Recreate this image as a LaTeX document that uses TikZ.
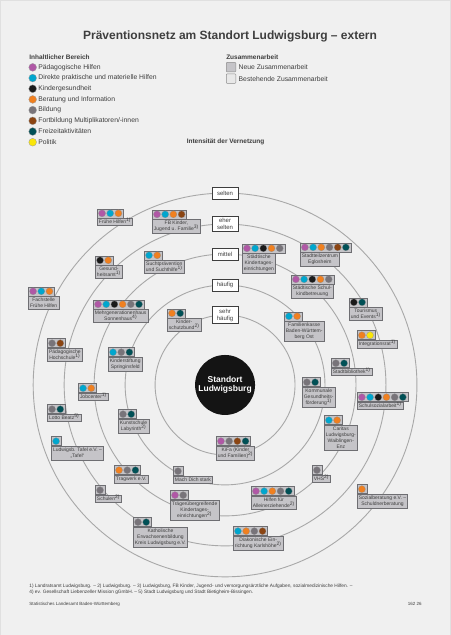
\documentclass[tikz,border=0pt]{standalone}
\usepackage{fontspec}
\setmainfont{Liberation Sans}
\setsansfont{Liberation Sans}
\usetikzlibrary{positioning,calc}
\definecolor{bgfill}{RGB}{240,240,240}
\definecolor{orgfill}{RGB}{197,196,200}
\definecolor{orgline}{RGB}{110,110,114}
\definecolor{oldfill}{RGB}{232,232,232}
\definecolor{ringline}{RGB}{168,168,168}
\definecolor{textgray}{RGB}{62,62,62}
\definecolor{paed}{RGB}{176,88,166}
\definecolor{direkt}{RGB}{0,166,206}
\definecolor{gesund}{RGB}{26,26,26}
\definecolor{beratung}{RGB}{240,128,32}
\definecolor{bildung}{RGB}{120,116,122}
\definecolor{fortb}{RGB}{139,69,19}
\definecolor{freizeit}{RGB}{0,80,86}
\definecolor{politik}{RGB}{250,230,10}
\newcommand{\hoch}[1]{\smash{\textsuperscript{#1}}}
% tab with one dot per content area above node #1
\newcommand{\bereiche}[2]{%
  \foreach \farbe [count=\i] in {#2} {\xdef\nfarben{\i}}
  \node[reiter, minimum width=\nfarben*8.2+1.6, anchor=south west] (#1-tab) at (#1.north west) {};
  \foreach \farbe [count=\i] in {#2} {\fill[\farbe, draw=black!45, line width=0.2pt] ($(#1-tab.west)+(\i*8.2-3.3,0)$) circle[radius=3.5];}
}

\begin{document}
\begin{tikzpicture}[x=1pt, y=-1pt,
  font=\fontsize{6.8}{8}\selectfont,
  org/.style={draw=orgline, fill=orgfill, line width=0.5pt, anchor=north west, align=center, inner xsep=1.6pt, inner ysep=1.8pt, text=textgray, font=\fontsize{5}{6}\selectfont},
  reiter/.style={draw=orgline, fill=orgfill, line width=0.5pt, minimum height=9pt, inner sep=0pt},
  stufe/.style={draw=textgray, fill=white, line width=0.6pt, minimum width=26pt, minimum height=12pt, inner xsep=1pt, inner ysep=2pt, align=center, text=textgray, font=\fontsize{6}{7}\selectfont},
  ring/.style={draw=ringline, line width=0.9pt},
  head/.style={font=\fontsize{6.5}{8}\selectfont\bfseries, text=textgray},
  lab/.style={text=textgray, anchor=west, inner sep=0pt},
  fuss/.style={text=textgray, anchor=north west, align=left, inner sep=0pt, font=\fontsize{4.8}{5.6}\selectfont}]

\fill[bgfill, draw=black!12] (0,0) rectangle (450,635);
\useasboundingbox (0,0) rectangle (450,635);

% title and legend
\node[font=\fontsize{12}{14}\selectfont\bfseries, text=textgray] (titel) at (230,36) {Präventionsnetz am Standort Ludwigsburg – extern};
\node[head, anchor=west, inner sep=0pt] (hinhalt) at (29,57) {Inhaltlicher Bereich};
\foreach \farbe/\text [count=\i] in {paed/Pädagogische Hilfen, direkt/Direkte praktische und materielle Hilfen, gesund/Kindergesundheit, beratung/Beratung und Information, bildung/Bildung, fortb/{Fortbildung Multiplikatoren/-innen}, freizeit/Freizeitaktivitäten, politik/Politik} {
  \fill[\farbe, draw=black!40, line width=0.3pt] (32.5,56.5+\i*10.7) circle[radius=3.9];
  \node[lab] (l\i) at (38,56.5+\i*10.7) {\text};
}
\node[head, anchor=west, inner sep=0pt] (hzusammen) at (226,57) {Zusammenarbeit};
\node[draw=black!45, fill=orgfill, minimum size=9.5pt, inner sep=0pt, rounded corners=0.8pt] (neu) at (231,67) {};
\node[lab, right=2.5pt of neu] (lneu) {Neue Zusammenarbeit};
\node[draw=black!45, fill=oldfill, minimum size=9.5pt, inner sep=0pt, rounded corners=0.8pt] (alt) at (231,78.5) {};
\node[lab, right=2.5pt of alt] (lalt) {Bestehende Zusammenarbeit};
\node[head] (hintens) at (225.5,142) {Intensität der Vernetzung};

% centre and rings
\node[circle, fill=black!92, minimum size=60pt, inner sep=0pt, align=center, text=white, font=\fontsize{8.5}{9.5}\selectfont\bfseries] (zentrum) at (225,385) {Standort\\Ludwigsburg};
\foreach \r in {70,100,131,161,192} \draw[ring] (zentrum.center) circle[radius=\r];
\node[stufe] (selten) at (225,193) {selten};
\node[stufe] (eherselten) at (225,224) {eher\\selten};
\node[stufe] (mittel) at (225,254) {mittel};
\node[stufe] (haeufig) at (225,285) {häufig};
\node[stufe] (sehrhaeufig) at (225,315) {sehr\\häufig};

% partners, upper half
\node[org] (fruehe) at (97,218) {Frühe Hilfen\hoch{1)}};
\bereiche{fruehe}{paed,direkt,beratung}
\node[org] (fbkinder) at (152,219) {FB Kinder,\\Jugend u. Familie\hoch{3)}};
\bereiche{fbkinder}{paed,direkt,beratung,fortb}
\node[org] (gesundamt) at (95,265) {Gesund-\\heitsamt\hoch{1)}};
\bereiche{gesundamt}{gesund,beratung}
\node[org] (sucht) at (144,260) {Suchtprävention\\und Suchthilfe\hoch{1)}};
\bereiche{sucht}{direkt,beratung}
\node[org] (kitas) at (242,253) {Städtische\\Kindertages-\\einrichtungen};
\bereiche{kitas}{paed,direkt,gesund,beratung,bildung}
\node[org] (eglosheim) at (300,252) {Stadtteilzentrum\\Eglosheim};
\bereiche{eglosheim}{paed,direkt,beratung,bildung,fortb,freizeit}
\node[org] (schulkind) at (291,284) {Städtische Schul-\\kindbetreuung};
\bereiche{schulkind}{paed,direkt,gesund,beratung,bildung}
\node[org] (fachstelle) at (28,296) {Fachstelle\\Frühe Hilfen};
\bereiche{fachstelle}{paed,direkt,beratung}
\node[org] (mgh) at (93,309) {Mehrgenerationenhaus\\Sonnenhaus\hoch{4)}};
\bereiche{mgh}{paed,direkt,gesund,beratung,bildung,freizeit}
\node[org] (tourismus) at (349,307) {Tourismus\\und Events\hoch{1)}};
\bereiche{tourismus}{gesund,freizeit}
\node[org] (kinderschutz) at (167,318) {Kinder-\\schutzbund\hoch{2)}};
\bereiche{kinderschutz}{beratung,freizeit}
\node[org] (familienkasse) at (284,321) {Familienkasse\\Baden-Württem-\\berg Ost};
\bereiche{familienkasse}{direkt,beratung}
\node[org] (integration) at (357,340) {Integrationsrat\hoch{1)}};
\bereiche{integration}{beratung,politik}
\node[org] (ph) at (47,348) {Pädagogische\\Hochschule\hoch{1)}};
\bereiche{ph}{bildung,fortb}
\node[org] (springinsfeld) at (108,357) {Kinderstiftung\\Springinsfeld};
\bereiche{springinsfeld}{direkt,bildung,freizeit}
\node[org] (bibliothek) at (331,368) {Stadtbibliothek\hoch{1)}};
\bereiche{bibliothek}{bildung,freizeit}

% partners, lower half
\node[org] (jobcenter) at (78,393) {Jobcenter\hoch{1)}};
\bereiche{jobcenter}{direkt,beratung}
\node[org] (gesundfoerd) at (302,387) {Kommunale\\Gesundheits-\\förderung\hoch{1)}};
\bereiche{gesundfoerd}{bildung,freizeit}
\node[org] (schulsozial) at (357,402) {Schulsozialarbeit\hoch{1)}};
\bereiche{schulsozial}{paed,direkt,gesund,beratung,bildung,freizeit}
\node[org] (lotto) at (47,414) {Lotto Beatz\hoch{5)}};
\bereiche{lotto}{bildung,freizeit}
\node[org] (kunstschule) at (118,419) {Kunstschule\\Labyrinth\hoch{2)}};
\bereiche{kunstschule}{bildung,freizeit}
\node[org] (caritas) at (324,425) {Caritas\\Ludwigsburg-\\Waiblingen-\\Enz};
\bereiche{caritas}{direkt,beratung}
\node[org] (kifa) at (216,446) {KiFa (Kinder\\und Familien)\hoch{2)}};
\bereiche{kifa}{paed,bildung,fortb,freizeit}
\node[org] (tafel) at (51,446) {Ludwigsb. Tafel e.V. –\\„Tafel“};
\bereiche{tafel}{direkt}
\node[org] (tragwerk) at (114,475) {Tragwerk e.V.};
\bereiche{tragwerk}{beratung,bildung,freizeit}
\node[org] (machdich) at (173,476) {Mach Dich stark};
\bereiche{machdich}{bildung}
\node[org] (vhs) at (312,475) {VHS\hoch{2)}};
\bereiche{vhs}{bildung}
\node[org] (schulen) at (95,495) {Schulen\hoch{2)}};
\bereiche{schulen}{bildung}
\node[org] (alleinerz) at (251,496) {Hilfen für\\Alleinerziehende\hoch{2)}};
\bereiche{alleinerz}{paed,direkt,beratung,bildung,freizeit}
\node[org] (schuldner) at (357,494) {Sozialberatung e.V. –\\Schuldnerberatung};
\bereiche{schuldner}{beratung}
\node[org] (traeger) at (170,500) {Trägerübergreifende\\Kindertages-\\einrichtungen\hoch{2)}};
\bereiche{traeger}{paed,bildung}
\node[org] (katholisch) at (133,527) {Katholische\\Erwachsenenbildung\\Kreis Ludwigsburg e.V.};
\bereiche{katholisch}{bildung,freizeit}
\node[org] (diakonie) at (233,536) {Diakonische Ein-\\richtung Karlshöhe\hoch{2)}};
\bereiche{diakonie}{direkt,beratung,bildung,fortb}

% footnotes and source
\node[fuss] (fn) at (29,584) {1) Landratsamt Ludwigsburg. – 2) Ludwigsburg. – 3) Ludwigsburg, FB Kinder, Jugend- und versorgungsärztliche Aufgaben, sozialmedizinische Hilfen. –\\4) ev. Gesellschaft Liebenzeller Mission gGmbH. – 5) Stadt Ludwigsburg und Stadt Bietigheim-Bissingen.};
\node[fuss, font=\fontsize{4.5}{5.5}\selectfont] (quelle) at (29,602) {Statistisches Landesamt Baden-Württemberg};
\node[fuss, anchor=north east, font=\fontsize{4.5}{5.5}\selectfont] (nr) at (422,602) {162 26};
\end{tikzpicture}
\end{document}
